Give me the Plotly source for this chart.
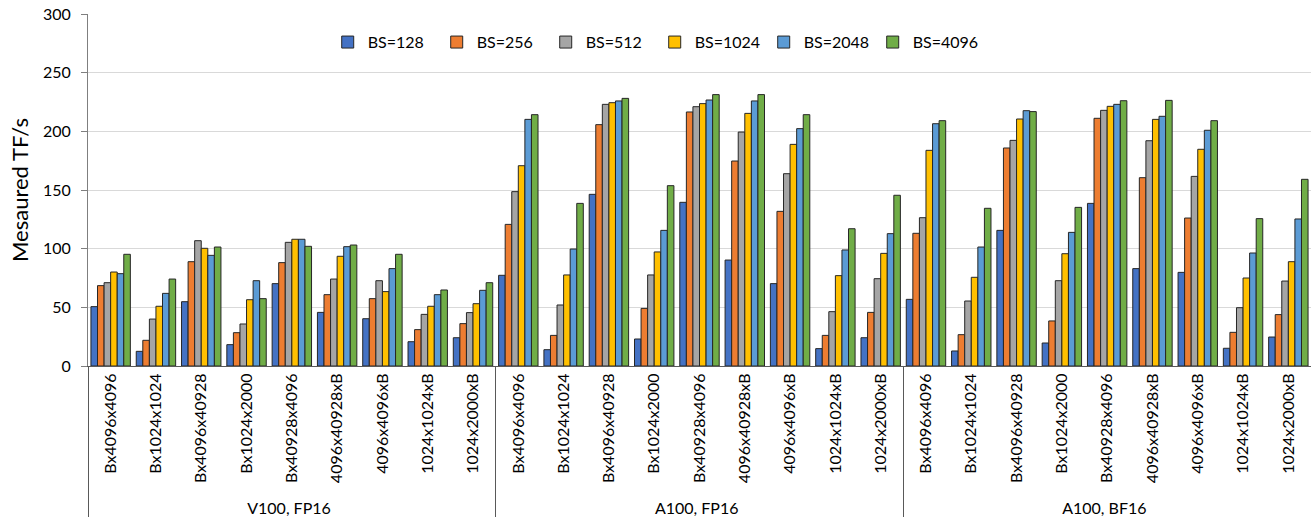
import plotly.graph_objects as go

groups = ["V100, FP16", "A100, FP16", "A100, BF16"]
shapes = ["Bx4096x4096", "Bx1024x1024", "Bx4096x40928", "Bx1024x2000", "Bx40928x4096",
          "4096x40928xB", "4096x4096xB", "1024x1024xB", "1024x2000xB"]
series_names = ["BS=128", "BS=256", "BS=512", "BS=1024", "BS=2048", "BS=4096"]
colors = ["#4472C4", "#ED7D31", "#A5A5A5", "#FFC000", "#5B9BD5", "#70AD47"]

# values per group: rows = shapes, cols = batch sizes
v100_fp16 = [
    [50.6, 68.5, 71.0, 80.1, 78.7, 95.2],
    [12.5, 21.9, 40.0, 50.9, 61.9, 74.1],
    [54.8, 88.9, 106.8, 100.3, 94.3, 101.4],
    [18.2, 28.4, 35.8, 56.5, 72.7, 57.4],
    [70.2, 88.1, 105.4, 108.0, 108.0, 102.0],
    [45.7, 60.8, 74.1, 93.5, 101.7, 103.1],
    [40.3, 57.4, 72.7, 63.4, 83.0, 95.2],
    [20.7, 31.0, 44.0, 50.9, 60.8, 64.8],
    [24.1, 36.1, 45.5, 53.1, 64.5, 71.0],
]
a100_fp16 = [
    [77.3, 120.7, 148.6, 170.7, 210.2, 214.2],
    [13.9, 26.1, 52.0, 77.6, 99.7, 138.6],
    [146.3, 205.7, 223.0, 224.4, 225.9, 228.1],
    [23.0, 49.1, 77.6, 97.2, 115.6, 153.7],
    [139.5, 216.5, 221.0, 223.6, 226.7, 231.3],
    [90.3, 174.7, 199.4, 215.3, 225.9, 231.3],
    [70.2, 131.8, 163.9, 188.9, 202.3, 214.2],
    [14.8, 26.1, 46.3, 77.0, 98.9, 117.0],
    [24.1, 45.7, 74.4, 96.0, 112.8, 145.5],
]
a100_bf16 = [
    [56.8, 113.1, 126.4, 183.8, 206.5, 209.1],
    [12.8, 26.7, 55.4, 75.6, 101.4, 134.4],
    [115.6, 185.8, 192.3, 210.5, 217.6, 216.8],
    [19.6, 38.4, 72.7, 95.7, 113.9, 135.2],
    [138.6, 211.1, 217.9, 221.3, 223.0, 226.1],
    [83.0, 160.5, 192.0, 210.2, 212.8, 226.4],
    [79.8, 126.1, 161.6, 184.7, 200.9, 209.1],
    [15.1, 28.7, 49.7, 75.0, 96.3, 125.6],
    [24.7, 43.8, 72.4, 88.9, 125.3, 159.1],
]
y_ticks = [0, 50, 100, 150, 200, 250, 300]

all_groups = [v100_fp16, a100_fp16, a100_bf16]
x_outer = [g for g in groups for _ in shapes]
x_inner = [s for _ in groups for s in shapes]

FONT = "Lato, 'Open Sans', sans-serif"

fig = go.Figure()
for j, name in enumerate(series_names):
    yvals = [row[j] for grp in all_groups for row in grp]
    fig.add_trace(go.Bar(
        x=[x_outer, x_inner], y=yvals, name=name,
        marker=dict(color=colors[j], line=dict(color="#262626", width=1)),
    ))

fig.update_layout(
    width=1311, height=525,
    margin=dict(l=88, r=0, t=14, b=159, autoexpand=False),
    paper_bgcolor="white", plot_bgcolor="white",
    barmode="group", bargap=0.13, bargroupgap=0,
    font=dict(family=FONT, size=16, color="#000000"),
    legend=dict(orientation="h", x=0.196, xanchor="left", y=0.92, yanchor="middle",
                font=dict(size=16), bgcolor="rgba(0,0,0,0)",
                itemclick=False, itemwidth=30, entrywidth=64, entrywidthmode="pixels"),
    xaxis=dict(
        type="multicategory", tickangle=-90, showline=True, linecolor="#595959",
        linewidth=1, showdividers=True, dividercolor="#595959", dividerwidth=1,
        ticks="", tickfont=dict(size=16), showgrid=False, automargin=False,
    ),
    yaxis=dict(
        range=[0, 300], tickvals=y_ticks, showgrid=True, gridcolor="#D9D9D9",
        showline=True, linecolor="#7F7F7F", linewidth=1, ticks="outside",
        ticklen=6, tickcolor="#7F7F7F", tickfont=dict(size=16), zeroline=False,
        automargin=False, ticklabelstandoff=7,
        title=dict(text="Mesaured TF/s", font=dict(size=22), standoff=8),
    ),
)

fig.write_html("out.html", post_script="document.body.style.margin='0px';",
               config={"displayModeBar": False})
